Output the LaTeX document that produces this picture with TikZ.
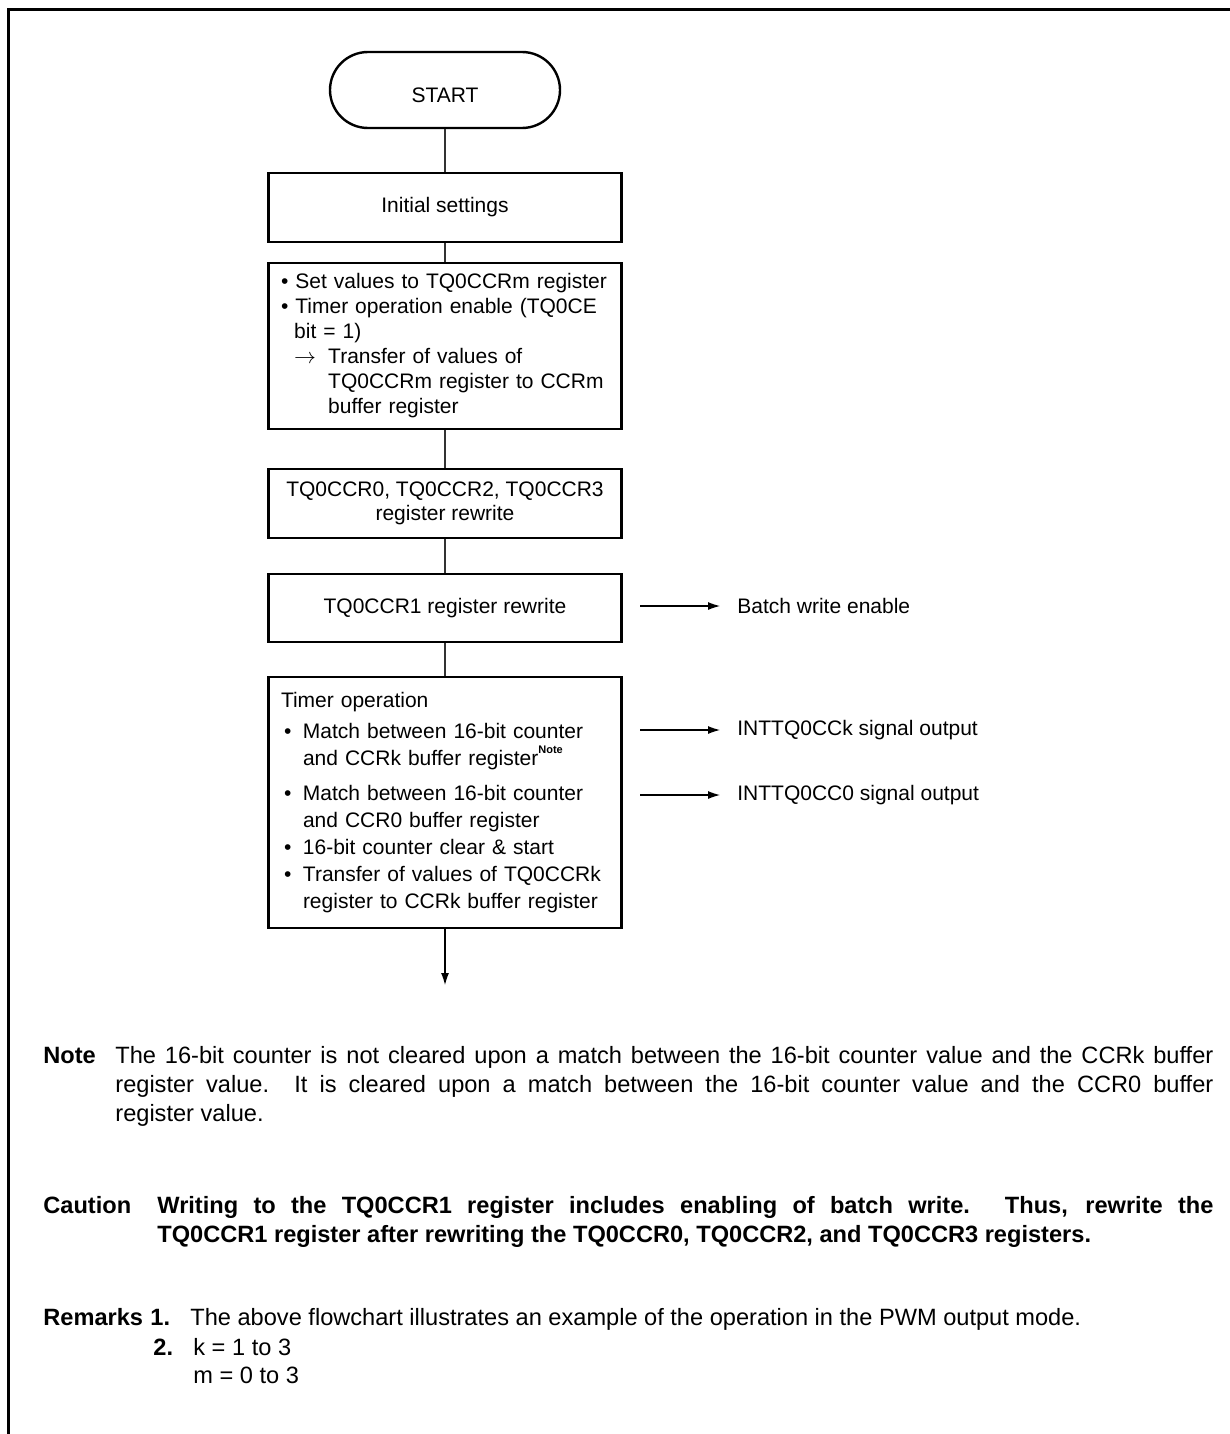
\documentclass[tikz,border=0pt]{standalone}
\usepackage{fontspec}
\setmainfont{Liberation Sans}
\usetikzlibrary{arrows.meta}

\newcommand{\itm}{\hspace*{1.5pt}\textbullet\hspace{5.8pt}}
\newcommand{\cnt}{\hspace*{11pt}}
\newcommand{\ind}{\hspace*{6.6pt}}
\newcommand{\notemark}{\raisebox{0.55em}{\fontsize{5.5}{6}\selectfont\bfseries Note}}

\begin{document}
\begin{tikzpicture}[x=0.5pt,y=-0.5pt,
	every node/.style={font=\fontsize{10.5}{12.5}\selectfont},
	procbox/.style={draw,line width=1.4pt,minimum width=176.5pt,minimum height=34.5pt,align=center},
	term/.style={draw,line width=1.2pt,rounded corners=19pt,minimum width=115pt,minimum height=38pt},
	conn/.style={line width=0.55pt,black!80},
	sigarrow/.style={line width=0.55pt,-{Latex[length=6pt,width=4pt]}},
	notetext/.style={font=\fontsize{11.8}{14.5}\selectfont,anchor=base west,inner sep=0pt},
	notelbl/.style={font=\fontsize{11.8}{14.5}\selectfont\bfseries,anchor=base west,inner sep=0pt}]
	\path[use as bounding box] (0,0) rectangle (1230,1434);
	\draw[line width=1.5pt] (1230,10) -- (8,10) -- (8,1434);

	% flowchart
	\node[term,text height=13pt,text depth=0pt] (start) at (445,90) {START};
	\node[procbox] (init) at (445,207.5) {Initial settings};
	\node[procbox,align=left,text width=164pt,inner xsep=6.25pt,minimum height=83pt] (setval) at (445,346) {%
		\textbullet\ Set values to TQ0CCRm register\\
		\textbullet\ Timer operation enable (TQ0CE\\
		\ind bit = 1)\\
		\ind\makebox[17pt][l]{$\rightarrow$}Transfer of values of\\
		\ind\hspace*{17pt}TQ0CCRm register to CCRm\\
		\ind\hspace*{17pt}buffer register};
	\node[procbox,font=\fontsize{10.5}{12}\selectfont] (rewr) at (445,503.5) {TQ0CCR0, TQ0CCR2, TQ0CCR3\\register rewrite};
	\node[procbox,minimum height=34pt] (rewr1) at (445,608) {TQ0CCR1 register rewrite};
	\node[procbox,align=left,text width=164pt,inner xsep=6.25pt,minimum height=125.5pt,
		font=\fontsize{10.5}{13.5}\selectfont] (timer) at (445,802.5) {%
		Timer operation\\[2pt]
		\itm Match between 16-bit counter\\
		\cnt and CCRk buffer register\notemark\\[4pt]
		\itm Match between 16-bit counter\\
		\cnt and CCR0 buffer register\\
		\itm 16-bit counter clear \& start\\
		\itm Transfer of values of TQ0CCRk\\
		\cnt register to CCRk buffer register};
	\coordinate (stop) at (445,985);

	\draw[conn] (start) -- (init);
	\draw[conn] (init) -- (setval);
	\draw[conn] (setval) -- (rewr);
	\draw[conn] (rewr) -- (rewr1);
	\draw[conn] (rewr1) -- (timer);
	\draw[sigarrow] (timer) -- (stop);

	% outputs
	\coordinate (b1) at (640,606);
	\coordinate (k1) at (640,730);
	\coordinate (z1) at (640,795);
	\node[anchor=west,inner xsep=8.5pt] (batch) at (720,606) {Batch write enable};
	\node[anchor=west,inner xsep=8.5pt] (ccko) at (720,730) {INTTQ0CCk signal output};
	\node[anchor=west,inner xsep=8.5pt] (cczo) at (720,795) {INTTQ0CC0 signal output};
	\draw[sigarrow] (b1) -- (batch);
	\draw[sigarrow] (k1) -- (ccko);
	\draw[sigarrow] (z1) -- (cczo);

	% notes
	\node[notelbl] (notelab) at (43,1063) {Note};
	\node[notetext,text width=549pt,align=justify] (notepar) at (115,1063) {The 16-bit counter is not cleared upon a match between the 16-bit counter value and the CCRk buffer\linebreak
		register value.  It is cleared upon a match between the 16-bit counter value and the CCR0 buffer\linebreak
		register value.};
	\node[notelbl] (cautlab) at (43,1213) {Caution};
	\node[notelbl,text width=528pt,align=justify] (cautpar) at (157,1213) {Writing to the TQ0CCR1 register includes enabling of batch write.  Thus, rewrite the\linebreak
		TQ0CCR1 register after rewriting the TQ0CCR0, TQ0CCR2, and TQ0CCR3 registers.};
	\node[notelbl] (remlab) at (43,1325) {Remarks};
	\node[notelbl] (rem1) at (150,1325) {1.};
	\node[notetext] (rem1txt) at (190,1325) {The above flowchart illustrates an example of the operation in the PWM output mode.};
	\node[notelbl] (rem2) at (153,1355) {2.};
	\node[notetext] (rem2k) at (193,1355) {k = 1 to 3};
	\node[notetext] (rem2m) at (193,1383) {m = 0 to 3};
\end{tikzpicture}
\end{document}
